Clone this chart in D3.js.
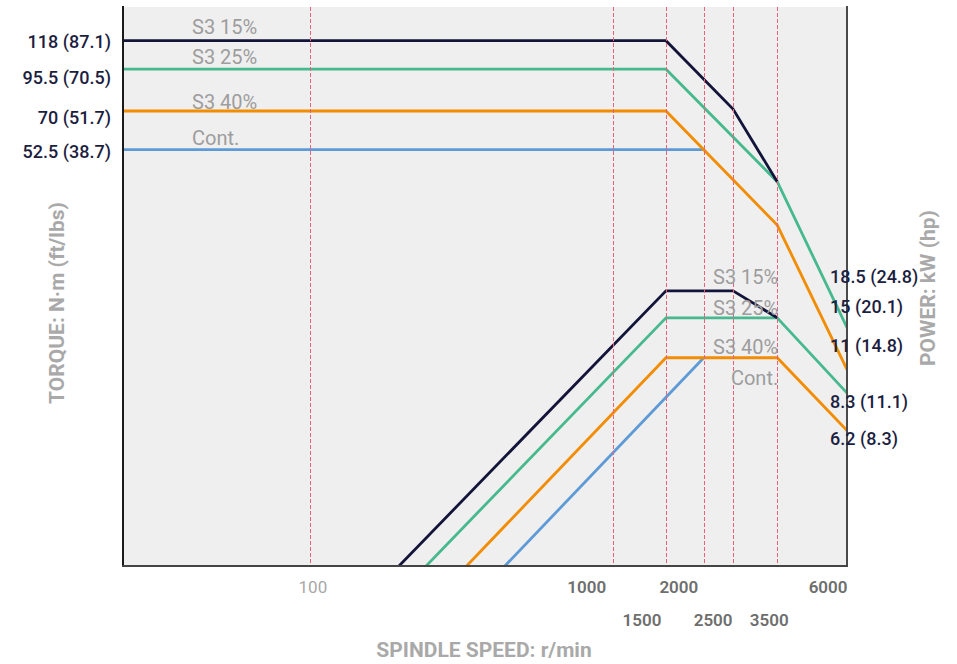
<!DOCTYPE html>
<html><head><meta charset="utf-8">
<script src="https://cdn.jsdelivr.net/npm/d3@7"></script>
<style>body{margin:0;background:#fff}svg{display:block}text{font-family:Roboto,"Noto Sans",sans-serif}</style>
</head><body><svg id="c" width="957" height="664"></svg>
<script>
// ---- data ----
const speedTicks = [100, 1000, 1500, 2000, 2500, 3500, 6000];
const guideSpeeds = [100, 1000, 1500, 2000, 2500, 3500];
const seriesNames = ["S3 15%", "S3 25%", "S3 40%", "Cont."];
const torqueS3_15 = [[24, 118], [1500, 118], [2500, 71], [3500, 41.4]];
const torqueS3_25 = [[24, 95.5], [1500, 95.5], [3500, 41.4], [6000, 13.8]];
const torqueS3_40 = [[24, 70], [1500, 70], [3500, 30], [6000, 10.1]];
const torqueCont  = [[24, 52.5], [2000, 52.5]];
const powerS3_15 = [[196, 2.18], [1500, 18.5], [2500, 18.5], [3500, 15]];
const powerS3_25 = [[241, 2.18], [1500, 15], [3500, 15], [6000, 8.3]];
const powerS3_40 = [[328, 2.18], [1500, 11], [3500, 11], [6000, 6.2]];
const powerCont  = [[439, 2.18], [2000, 11]];
const torqueTickValues = [118, 95.5, 70, 52.5];
const torqueTickLabels = ["118 (87.1)", "95.5 (70.5)", "70 (51.7)", "52.5 (38.7)"];
const powerTickValues = [18.5, 15, 11, 8.3, 6.2];
const powerTickLabels = ["18.5 (24.8)", "15 (20.1)", "11 (14.8)", "8.3 (11.1)", "6.2 (8.3)"];

// ---- layout / style ----
const L = 123, R = 847, T = 7, B = 566;
const colors = ["#13143a", "#46b98e", "#f28c00", "#5e9ad6"];
const torqueLabelDy = [6.9, 14.8, 13.4, 7.9];
const powerLabelDy = [-8.2, -4.4, -5.5, 13.6, 13.5];
const torqueNameDy = [-6.8, -5.0, -2.4, -4.8];
const powerNameDy = [-7, -2.4, -4, 27.6];
const tickRow = {100: 0, 1000: 0, 1500: 1, 2000: 0, 2500: 1, 3500: 1, 6000: 0};
const tickDx = {100: 2, 1000: -7, 1500: -5, 2000: -6, 2500: -1, 3500: 11, 6000: -1};

const svg = d3.select("#c");
const x = d3.scaleLog().domain([24, 6000]).range([L, 848]);
const yT = d3.scaleLog().domain([52.5, 118]).range([149.7, 40.7]);
const yP = d3.scaleLog().domain([6.2, 18.5]).range([431.6, 290.8]);

svg.append("defs").append("clipPath").attr("id", "clip")
  .append("rect").attr("x", L).attr("y", T).attr("width", R - L).attr("height", B - T);

svg.append("rect").attr("x", L).attr("y", T).attr("width", R - L).attr("height", B - T).attr("fill", "#efefef");

const g = svg.append("g").attr("clip-path", "url(#clip)");
const lineT = d3.line().x(d => x(d[0])).y(d => yT(d[1]));
const lineP = d3.line().x(d => x(d[0])).y(d => yP(d[1]));
const torqueSeries = [torqueS3_15, torqueS3_25, torqueS3_40, torqueCont];
const powerSeries = [powerS3_15, powerS3_25, powerS3_40, powerCont];
[3, 2, 1, 0].forEach(i => {
  g.append("path").attr("d", lineT(torqueSeries[i])).attr("fill", "none")
    .attr("stroke", colors[i]).attr("stroke-width", 2.8).attr("stroke-linejoin", "miter");
  g.append("path").attr("d", lineP(powerSeries[i])).attr("fill", "none")
    .attr("stroke", colors[i]).attr("stroke-width", 2.8).attr("stroke-linejoin", "miter");
});

// guide lines
svg.append("g").selectAll("line").data(guideSpeeds).join("line")
  .attr("x1", d => Math.round(x(d)) + 0.5).attr("x2", d => Math.round(x(d)) + 0.5)
  .attr("y1", T).attr("y2", B)
  .attr("stroke", "#e8607a").attr("stroke-width", 1).attr("stroke-dasharray", "4,2");

// frame
svg.append("line").attr("x1", L).attr("x2", L).attr("y1", T - 1).attr("y2", B + 1).attr("stroke", "#1a1a1a").attr("stroke-width", 2);
svg.append("line").attr("x1", R).attr("x2", R).attr("y1", T - 1).attr("y2", B + 1).attr("stroke", "#4a4a4a").attr("stroke-width", 2);
svg.append("line").attr("x1", L - 1).attr("x2", R + 1).attr("y1", B).attr("y2", B).attr("stroke", "#444").attr("stroke-width", 2);

// x axis labels
const xa = svg.append("g").attr("transform", `translate(0,${B})`)
  .call(d3.axisBottom(x).tickValues(speedTicks).tickSize(0).tickFormat(d3.format("d")));
xa.select(".domain").remove();
xa.selectAll(".tick text")
  .attr("y", 0).attr("dy", null)
  .attr("transform", d => `translate(${tickDx[d]},${tickRow[d] ? 60 : 27})`)
  .attr("text-anchor", d => d === 100 ? "middle" : "end")
  .attr("font-family", "Roboto").attr("font-size", 17)
  .attr("font-weight", d => d === 100 ? 400 : 600)
  .attr("fill", d => d === 100 ? "#a8a8a8" : "#6e6e6e");

// torque / power value labels
svg.append("g").selectAll("text").data(torqueTickValues).join("text")
  .attr("x", 111).attr("y", (d, i) => yT(d) + torqueLabelDy[i])
  .attr("text-anchor", "end").attr("font-size", 18).attr("font-weight", 500).attr("fill", "#1c1e40")
  .text((d, i) => torqueTickLabels[i]);
svg.append("g").selectAll("text").data(powerTickValues).join("text")
  .attr("x", 830).attr("y", (d, i) => yP(d) + powerLabelDy[i])
  .attr("text-anchor", "start").attr("font-size", 18).attr("font-weight", 500).attr("fill", "#1c1e40")
  .text((d, i) => powerTickLabels[i]);

// series names
const torqueLevels = [118, 95.5, 70, 52.5];
const powerLevels = [18.5, 15, 11, 11];
svg.append("g").selectAll("text").data(seriesNames).join("text")
  .attr("x", L + 69).attr("y", (d, i) => yT(torqueLevels[i]) + torqueNameDy[i])
  .attr("font-size", 20).attr("fill", "#9d9d9d").text(d => d);
svg.append("g").selectAll("text").data(seriesNames).join("text")
  .attr("x", x(3500) + 1).attr("y", (d, i) => yP(powerLevels[i]) + powerNameDy[i])
  .attr("text-anchor", "end").attr("font-size", 20).attr("fill", "#9d9d9d").text(d => d);

// axis titles
svg.append("text").attr("transform", "translate(64,303) rotate(-90)")
  .attr("text-anchor", "middle").attr("font-size", 21).attr("font-weight", 700).attr("fill", "#a9a9a9")
  .text("TORQUE: N·m (ft/lbs)");
svg.append("text").attr("transform", "translate(935,288) rotate(-90)")
  .attr("text-anchor", "middle").attr("font-size", 21).attr("font-weight", 700).attr("fill", "#a9a9a9")
  .text("POWER: kW (hp)");
svg.append("text").attr("x", 484).attr("y", 657)
  .attr("text-anchor", "middle").attr("font-size", 21).attr("font-weight", 700).attr("fill", "#a9a9a9")
  .text("SPINDLE SPEED: r/min");
</script></body></html>
